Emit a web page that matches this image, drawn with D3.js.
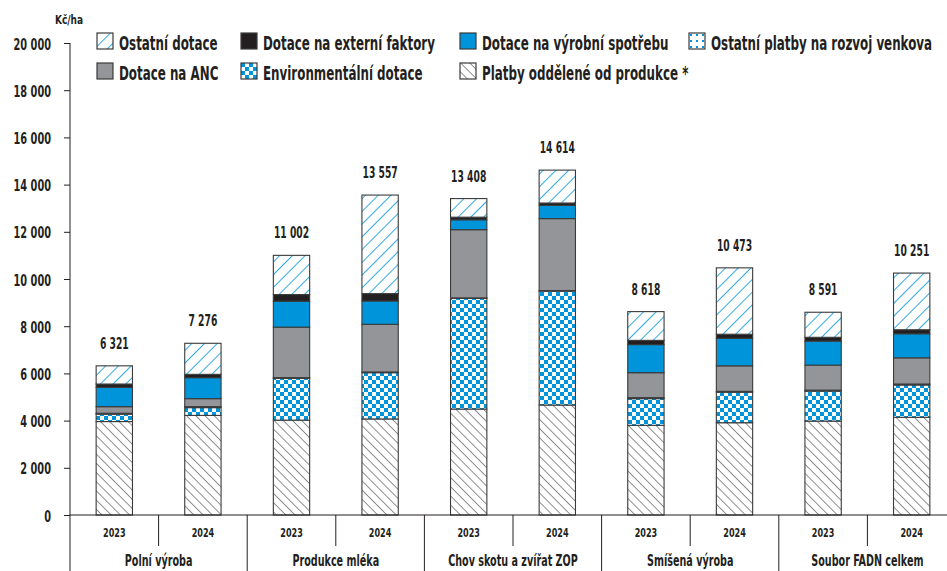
<!DOCTYPE html>
<html>
<head>
<meta charset="utf-8">
<script src="https://cdn.jsdelivr.net/npm/d3@7"></script>
<style>
  body { margin: 0; background: #fff; overflow: hidden; }
  text { font-family: "DejaVu Sans Condensed", "DejaVu Sans", sans-serif; font-weight: bold; fill: #231f20; }
</style>
</head>
<body>
<div id="chart"></div>
<script>
// data (Kč/ha), bars in order: group x year
var groups = ["Polní výroba", "Produkce mléka", "Chov skotu a zvířat ZOP", "Smíšená výroba", "Soubor FADN celkem"];
var years = ["2023", "2024"];
var totals = [6321, 7276, 11002, 13557, 13408, 14614, 8618, 10473, 8591, 10251];

// series, bottom to top
var platbyOddelene = [3960, 4220, 4020, 4070, 4490, 4660, 3800, 3910, 3980, 4140];
var environmentalni = [310, 330, 1770, 1960, 4690, 4830, 1130, 1290, 1270, 1370];
var rozvojVenkova = [40, 40, 30, 30, 20, 20, 40, 40, 40, 40];
var dotaceAnc = [280, 340, 2140, 2020, 2890, 3050, 1060, 1080, 1060, 1110];
var vyrobniSpotreba = [820, 890, 1100, 990, 420, 560, 1190, 1170, 1020, 1020];
var externiFaktory = [140, 140, 280, 310, 110, 100, 180, 170, 160, 170];
var ostatniDotace = [771, 1316, 1662, 4177, 788, 1394, 1218, 2813, 1061, 2401];

var yTicks = [0, 2000, 4000, 6000, 8000, 10000, 12000, 14000, 16000, 18000, 20000];

var series = [
  { key: "platby", name: "Platby oddělené od produkce *", values: platbyOddelene, fill: "url(#hatchBlack)" },
  { key: "env", name: "Environmentální dotace", values: environmentalni, fill: "url(#checker)" },
  { key: "rozvoj", name: "Ostatní platby na rozvoj venkova", values: rozvojVenkova, fill: "url(#dots)" },
  { key: "anc", name: "Dotace na ANC", values: dotaceAnc, fill: "#939598" },
  { key: "vyrobni", name: "Dotace na výrobní spotřebu", values: vyrobniSpotreba, fill: "#0095da" },
  { key: "externi", name: "Dotace na externí faktory", values: externiFaktory, fill: "#231f20" },
  { key: "ostatni", name: "Ostatní dotace", values: ostatniDotace, fill: "url(#hatchBlue)" }
];

// legend order, two rows of four
var legendOrder = ["ostatni", "externi", "vyrobni", "rozvoj", "anc", "env", "platby"];

var width = 947, height = 571;
// plot runs a little past the right edge, as in the original crop
var left = 70, right = 956, base = 515, plotTop = 43;

var svg = d3.select("#chart").append("svg")
  .attr("width", width)
  .attr("height", height);

// squeeze text horizontally, the original font is very condensed
function squeeze(sel, sx) {
  sel.each(function() {
    var t = d3.select(this);
    var tx = +t.attr("x") || 0, ty = +t.attr("y") || 0;
    t.attr("x", 0).attr("y", 0)
      .attr("transform", "translate(" + tx + "," + ty + ") scale(" + sx + ",1)");
  });
}

// patterns
var defs = svg.append("defs");
var hb = defs.append("pattern").attr("id", "hatchBlue").attr("patternUnits", "userSpaceOnUse")
  .attr("width", 9).attr("height", 9).attr("patternTransform", "rotate(45)");
hb.append("rect").attr("width", 9).attr("height", 9).attr("fill", "#fff");
hb.append("line").attr("x1", 0).attr("y1", 0).attr("x2", 0).attr("y2", 9)
  .attr("stroke", "#0095da").attr("stroke-width", 1.6);

var hk = defs.append("pattern").attr("id", "hatchBlack").attr("patternUnits", "userSpaceOnUse")
  .attr("width", 6.5).attr("height", 6.5).attr("patternTransform", "rotate(-45)");
hk.append("rect").attr("width", 6.5).attr("height", 6.5).attr("fill", "#fff");
hk.append("line").attr("x1", 0).attr("y1", 0).attr("x2", 0).attr("y2", 6.5)
  .attr("stroke", "#231f20").attr("stroke-width", 1);

var ck = defs.append("pattern").attr("id", "checker").attr("patternUnits", "userSpaceOnUse")
  .attr("width", 8).attr("height", 8);
ck.append("rect").attr("width", 8).attr("height", 8).attr("fill", "#fff");
ck.append("rect").attr("width", 4).attr("height", 4).attr("fill", "#0095da");
ck.append("rect").attr("x", 4).attr("y", 4).attr("width", 4).attr("height", 4).attr("fill", "#0095da");

var dt = defs.append("pattern").attr("id", "dots").attr("patternUnits", "userSpaceOnUse")
  .attr("width", 6).attr("height", 6);
dt.append("rect").attr("width", 6).attr("height", 6).attr("fill", "#fff");
dt.append("rect").attr("x", 1).attr("y", 1).attr("width", 2).attr("height", 2).attr("fill", "#0095da");

// scales
var barIds = d3.range(totals.length);
var x = d3.scaleBand().domain(barIds).range([left, right]).paddingInner(0.59).paddingOuter(0.295);
var y = d3.scaleLinear().domain([0, 20000]).range([base, plotTop]);

var fmt = d3.formatLocale({ decimal: ",", thousands: " ", grouping: [3], currency: ["", ""] }).format(",");

// y axis
var yAxis = svg.append("g")
  .attr("transform", "translate(" + left + ",0)")
  .call(d3.axisLeft(y).tickValues(yTicks).tickSize(6).tickPadding(13).tickFormat(fmt));
yAxis.select(".domain").attr("stroke", "#231f20").attr("d", "M0," + y(20000) + "V" + height);
yAxis.selectAll(".tick line").attr("stroke", "#231f20");
yAxis.selectAll(".tick text")
  .attr("font-size", 16.5).attr("fill", "#231f20").attr("dy", null).attr("y", 6)
  .style("font-family", null);
yAxis.attr("font-family", null);
squeeze(yAxis.selectAll(".tick text"), 0.66);

svg.append("text").attr("x", 55).attr("y", 24).attr("font-size", 12.5).text("Kč/ha")
  .call(squeeze, 0.8);

// stacked bars
var rows = barIds.map(function(i) {
  var r = { id: i };
  series.forEach(function(s) { r[s.key] = s.values[i]; });
  return r;
});
var stack = d3.stack().keys(series.map(function(s) { return s.key; }));
var stacked = stack(rows);

svg.selectAll("g.layer").data(stacked).enter().append("g")
  .attr("class", "layer")
  .attr("fill", function(d, i) { return series[i].fill; })
  .selectAll("rect").data(function(d) { return d; }).enter().append("rect")
  .attr("x", function(d) { return x(d.data.id); })
  .attr("y", function(d) { return y(d[1]); })
  .attr("width", x.bandwidth())
  .attr("height", function(d) { return y(d[0]) - y(d[1]); })
  .attr("stroke", "#3a3a3a")
  .attr("stroke-width", 1.1);

// totals
svg.selectAll("text.total").data(barIds).enter().append("text")
  .attr("class", "total")
  .attr("x", function(i) { return x(i) + x.bandwidth() / 2; })
  .attr("y", function(i) { return y(totals[i]) - 17; })
  .attr("text-anchor", "middle")
  .attr("font-size", 16.5)
  .text(function(i) { return fmt(totals[i]); })
  .call(squeeze, 0.62);

// x axis baseline and category boxes
var step = x.step();
svg.append("line").attr("x1", left).attr("x2", right).attr("y1", base).attr("y2", base)
  .attr("stroke", "#231f20").attr("stroke-width", 1.2);

svg.selectAll("line.yearsep").data(barIds).enter().append("line")
  .attr("class", "yearsep")
  .attr("x1", function(i) { return left + step * (i + 1); })
  .attr("x2", function(i) { return left + step * (i + 1); })
  .attr("y1", base)
  .attr("y2", function(i) { return i % 2 === 0 ? 546 : height; })
  .attr("stroke", "#231f20");

svg.selectAll("text.year").data(barIds).enter().append("text")
  .attr("class", "year")
  .attr("x", function(i) { return x(i) + x.bandwidth() / 2; })
  .attr("y", 537)
  .attr("text-anchor", "middle")
  .attr("font-size", 12.5)
  .text(function(i) { return years[i % 2]; })
  .call(squeeze, 0.72);

svg.selectAll("text.group").data(groups).enter().append("text")
  .attr("class", "group")
  .attr("x", function(g, j) { return left + step * (2 * j + 1); })
  .attr("y", 566)
  .attr("text-anchor", "middle")
  .attr("font-size", 15.5)
  .text(function(g) { return g; })
  .call(squeeze, 0.69);

// legend
var legX = [97, 241, 460, 689];
var legend = svg.selectAll("g.leg").data(legendOrder).enter().append("g")
  .attr("class", "leg")
  .attr("transform", function(k, i) {
    return "translate(" + legX[i % 4] + "," + (i < 4 ? 33 : 63) + ")";
  });
legend.append("rect")
  .attr("width", 16).attr("height", 16)
  .attr("fill", function(k) { return series.find(function(s) { return s.key === k; }).fill; })
  .attr("stroke", "#3a3a3a").attr("stroke-width", 1.2);
legend.append("text")
  .attr("x", 22).attr("y", 16.5)
  .attr("font-size", 20)
  .text(function(k) { return series.find(function(s) { return s.key === k; }).name; })
  .call(squeeze, 0.66);
</script>
</body>
</html>
